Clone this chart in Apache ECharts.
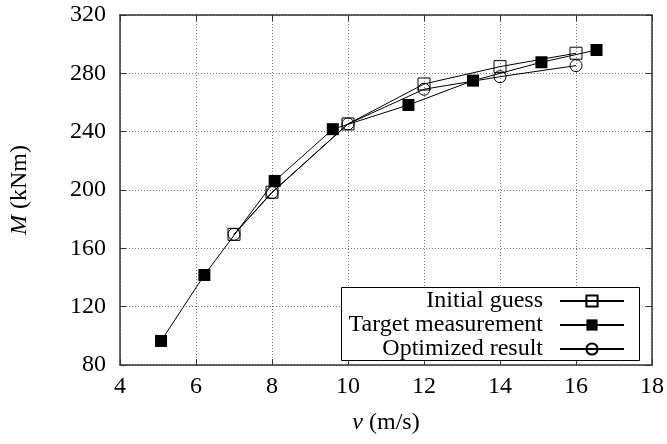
<!DOCTYPE html>
<html>
<head>
<meta charset="utf-8">
<script src="https://cdn.jsdelivr.net/npm/echarts@6/dist/echarts.min.js"></script>
<style>html,body{margin:0;padding:0;background:#fff}#c{width:667px;height:444px}</style>
</head>
<body>
<div id="c"></div>
<script>
var initialX = [7, 8, 10, 12, 14, 16];
var initialY = [169.6, 198.5, 245.3, 272.7, 284.6, 293.8];
var targetX = [5.08, 6.22, 8.07, 9.6, 11.59, 13.29, 15.09, 16.54];
var targetY = [96.5, 141.7, 206.2, 241.7, 258.3, 275.0, 287.6, 296.0];
var optX = [7, 8, 10, 12, 14, 16];
var optY = [169.6, 198.2, 245.3, 269.1, 277.7, 285.3];
var seriesNames = ['Initial guess', 'Target measurement', 'Optimized result'];
var xTicks = [4, 6, 8, 10, 12, 14, 16, 18];
var yTicks = [80, 120, 160, 200, 240, 280, 320];

function pairs(xs, ys) { return xs.map(function (x, i) { return [x, ys[i]]; }); }

var FONT = "'Liberation Serif', 'Times New Roman', serif";
var FS = 24;
var frame = { show: true, lineStyle: { color: '#333', width: 1.5 } };
var gridLine = { show: true, lineStyle: { color: '#777', type: [1, 2], width: 1 } };
var hollow = 'rgba(0,0,0,0)';

function xAx(pos, labels) {
  return {
    type: 'value', position: pos, min: xTicks[0], max: xTicks[xTicks.length - 1], interval: 2,
    axisLine: frame, axisTick: { show: true, inside: true, length: 6, lineStyle: { color: '#333' } },
    splitLine: pos === 'bottom' ? gridLine : { show: false },
    axisLabel: { show: labels, fontFamily: FONT, fontSize: FS, color: '#000', margin: 10 },
    name: labels ? '{i|v} (m/s)' : '', nameLocation: 'middle', nameGap: 46,
    nameTextStyle: { fontFamily: FONT, fontSize: FS, color: '#000',
      rich: { i: { fontStyle: 'italic', fontFamily: FONT, fontSize: FS, color: '#000' } } }
  };
}
function yAx(pos, labels) {
  return {
    type: 'value', position: pos, min: yTicks[0], max: yTicks[yTicks.length - 1], interval: 40,
    axisLine: frame, axisTick: { show: true, inside: true, length: 6, lineStyle: { color: '#333' } },
    splitLine: pos === 'left' ? gridLine : { show: false },
    axisLabel: { show: labels, fontFamily: FONT, fontSize: FS, color: '#000', margin: 14 },
    name: labels ? '{i|M} (kNm)' : '', nameLocation: 'middle', nameGap: 88, nameRotate: 90,
    nameTextStyle: { fontFamily: FONT, fontSize: FS, color: '#000',
      rich: { i: { fontStyle: 'italic', fontFamily: FONT, fontSize: FS, color: '#000' } } }
  };
}

var chart = echarts.init(document.getElementById('c'), null, { renderer: 'canvas' });
chart.setOption({
  animation: false,
  backgroundColor: '#fff',
  grid: { left: 120, right: 14, top: 15, bottom: 79, containLabel: false },
  xAxis: [xAx('bottom', true), xAx('top', false)],
  yAxis: [yAx('left', true), yAx('right', false)],
  graphic: [{
    type: 'rect', left: 341, top: 287, z: 3, silent: true,
    shape: { width: 298, height: 73 },
    style: { fill: '#fff', stroke: '#000', lineWidth: 1 }
  }],
  legend: {
    z: 5, orient: 'vertical', align: 'right', right: 28, bottom: 82,
    padding: [2, 14, 1, 8], itemGap: 0, itemWidth: 64, itemHeight: 14,
    textStyle: { fontFamily: FONT, fontSize: FS, color: '#000', lineHeight: 24, padding: [0, 12, 0, 0] },
    data: seriesNames
  },
  series: [
    { name: seriesNames[0], type: 'line', data: pairs(initialX, initialY), symbol: 'rect', symbolSize: 12,
      lineStyle: { color: '#000', width: 1 }, itemStyle: { color: hollow, borderColor: '#000', borderWidth: 1 }, z: 3 },
    { name: seriesNames[1], type: 'line', data: pairs(targetX, targetY), symbol: 'rect', symbolSize: 12,
      lineStyle: { color: '#000', width: 1 }, itemStyle: { color: '#000' }, z: 2 },
    { name: seriesNames[2], type: 'line', data: pairs(optX, optY), symbol: 'circle', symbolSize: 12,
      lineStyle: { color: '#000', width: 1 }, itemStyle: { color: hollow, borderColor: '#000', borderWidth: 1 }, z: 4 }
  ]
});
</script>
</body>
</html>
